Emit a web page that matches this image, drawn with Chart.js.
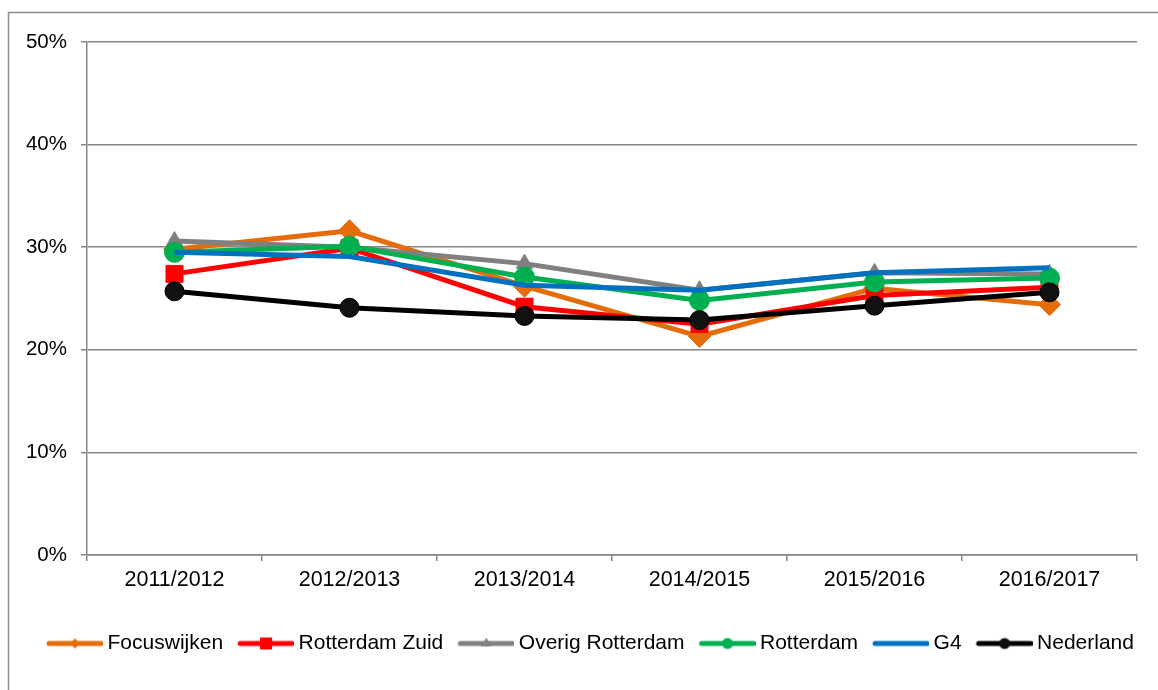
<!DOCTYPE html>
<html>
<head>
<meta charset="utf-8">
<script src="https://cdn.jsdelivr.net/npm/chart.js@4.4.0/dist/chart.umd.min.js"></script>
<style>
  html, body { margin: 0; padding: 0; background: #fff; }
  #wrap { width: 1158px; height: 690px; position: relative; }
</style>
</head>
<body>
<div id="wrap"><canvas id="chart"></canvas></div>
<script>
let years = ["2011/2012", "2012/2013", "2013/2014", "2014/2015", "2015/2016", "2016/2017"];

let focuswijken = [29.8, 31.6, 26.2, 21.3, 26.0, 24.4];
let rotterdamZuid = [27.4, 29.9, 24.2, 22.5, 25.3, 26.1];
let overigRotterdam = [30.6, 30.0, 28.4, 25.8, 27.5, 27.4];
let rotterdam = [29.5, 30.1, 27.1, 24.8, 26.6, 27.0];
let g4 = [29.5, 29.1, 26.3, 25.8, 27.5, 28.0];
let nederland = [25.7, 24.1, 23.3, 22.9, 24.3, 25.6];

let yTicks = [0, 10, 20, 30, 40, 50];

let fontFamily = "'Liberation Sans', Arial, sans-serif";
let gridColor = "#868686";

// legend symbol: line with a small marker, like the office chart
function legendSymbol(color, marker, fill) {
  let c = document.createElement("canvas");
  c.width = 67;
  c.height = 16;
  let g = c.getContext("2d");
  g.strokeStyle = color;
  g.lineWidth = 5;
  g.lineCap = "round";
  g.beginPath();
  g.moveTo(13, 8);
  g.lineTo(65, 8);
  g.stroke();
  g.fillStyle = fill || color;
  let cx = 39, cy = 8;
  g.beginPath();
  if (marker === "diamond") {
    g.moveTo(cx, cy - 5); g.lineTo(cx + 5, cy); g.lineTo(cx, cy + 5); g.lineTo(cx - 5, cy);
  } else if (marker === "square") {
    g.rect(cx - 6, cy - 6, 12, 12);
  } else if (marker === "triangle") {
    g.moveTo(cx, cy - 6); g.lineTo(cx + 5, cy + 3); g.lineTo(cx - 5, cy + 3);
  } else if (marker === "circle") {
    g.arc(cx, cy, 5.5, 0, Math.PI * 2);
  }
  g.closePath();
  if (marker) g.fill();
  return c;
}

let symbols = [
  legendSymbol("#E46C0A", "diamond"),
  legendSymbol("#FF0000", "square"),
  legendSymbol("#808080", "triangle"),
  legendSymbol("#00B050", "circle"),
  legendSymbol("#0070C0", null),
  legendSymbol("#000000", "circle", "#111111")
];

let outerBorder = {
  id: "outerBorder",
  beforeDraw(chart) {
    let c = chart.ctx;
    c.save();
    c.strokeStyle = "#8c8c8c";
    c.lineWidth = 1.5;
    c.strokeRect(8.5, 12.5, 1300, 900);
    c.restore();
  }
};

let datapoints = {
  labels: years,
  datasets: [
    {
      label: "Focuswijken",
      data: focuswijken,
      borderColor: "#E46C0A",
      backgroundColor: "#E46C0A",
      pointStyle: "rectRot",
      pointRadius: 11,
      order: 6
    },
    {
      label: "Rotterdam Zuid",
      data: rotterdamZuid,
      borderColor: "#FF0000",
      backgroundColor: "#FF0000",
      pointStyle: "rect",
      pointRadius: 12,
      order: 5
    },
    {
      label: "Overig Rotterdam",
      data: overigRotterdam,
      borderColor: "#808080",
      backgroundColor: "#808080",
      pointStyle: "triangle",
      pointRadius: 9.5,
      order: 4
    },
    {
      label: "Rotterdam",
      data: rotterdam,
      borderColor: "#00B050",
      backgroundColor: "#00B050",
      pointStyle: "circle",
      pointRadius: 10,
      order: 3
    },
    {
      label: "G4",
      data: g4,
      borderColor: "#0070C0",
      backgroundColor: "#0070C0",
      pointRadius: 0,
      order: 2
    },
    {
      label: "Nederland",
      data: nederland,
      borderColor: "#000000",
      backgroundColor: "#111111",
      pointStyle: "circle",
      pointRadius: 9.5,
      pointBorderColor: "#000000",
      pointBorderWidth: 1,
      order: 1
    }
  ]
};

let lineGraph = new Chart(document.getElementById("chart"), {
  type: "line",
  data: datapoints,
  plugins: [outerBorder],
  options: {
    responsive: true,
    maintainAspectRatio: false,
    animation: false,
    layout: { padding: { left: 18, right: 0, top: 42, bottom: 26 } },
    elements: {
      line: { borderWidth: 5, tension: 0 },
      point: { borderWidth: 1, hoverRadius: 10 }
    },
    scales: {
      x: {
        offset: true,
        grid: { offset: true, drawOnChartArea: false, color: gridColor, lineWidth: 1.5, tickLength: 6 },
        border: { color: gridColor, width: 1.5 },
        ticks: { color: "#000", padding: 6, maxRotation: 0, font: { family: fontFamily, size: 21.5 } },
        afterFit(scale) { scale.height = 68; }
      },
      y: {
        min: 0,
        max: 50,
        afterBuildTicks(scale) { scale.ticks = yTicks.map(v => ({ value: v })); },
        grid: { color: gridColor, lineWidth: 1.5, tickLength: 6 },
        border: { color: gridColor, width: 1.5 },
        ticks: {
          color: "#000",
          padding: 14,
          font: { family: fontFamily, size: 20.5 },
          callback: v => v + "%"
        },
        afterFit(scale) { scale.width = 69; }
      },
      yRight: {
        position: "right",
        display: true,
        grid: { display: false },
        border: { display: false },
        ticks: { display: false },
        afterFit(scale) { scale.width = 21; }
      }
    },
    plugins: {
      tooltip: { enabled: false },
      legend: {
        position: "bottom",
        labels: {
          color: "#000",
          font: { family: fontFamily, size: 21 },
          usePointStyle: true,
          pointStyleWidth: 55,
          padding: 10,
          sort: (a, b) => a.datasetIndex - b.datasetIndex,
          generateLabels(chart) {
            let items = Chart.defaults.plugins.legend.labels.generateLabels(chart);
            for (let item of items) {
              item.pointStyle = symbols[item.datasetIndex];
              item.rotation = 0;
            }
            return items;
          }
        }
      }
    }
  }
});
</script>
</body>
</html>
